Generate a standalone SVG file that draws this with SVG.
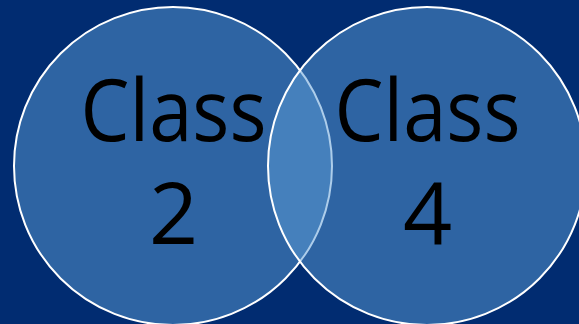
<svg xmlns="http://www.w3.org/2000/svg" width="579" height="324" viewBox="0 0 579 324">
  <style>
    .set { fill: #5B9BD5; fill-opacity: 0.5; stroke: #ffffff; stroke-width: 2; }
    .lbl { font-family: "Open Sans", "Noto Sans", "Liberation Sans", sans-serif; font-size: 86px; fill: #000000; text-anchor: middle; }
  </style>
  <rect x="0" y="0" width="579" height="324" fill="#012c71"/>
  <g id="connectors"></g>
  <g id="class2">
    <circle class="set" cx="173" cy="166" r="159"/>
  </g>
  <g id="class4">
    <circle class="set" cx="427" cy="166" r="159"/>
  </g>
  <g id="labels">
    <text class="lbl" x="173.5" y="141" textLength="186" lengthAdjust="spacingAndGlyphs">Class</text>
    <text class="lbl" x="173.5" y="244">2</text>
    <text class="lbl" x="427.5" y="141" textLength="186" lengthAdjust="spacingAndGlyphs">Class</text>
    <text class="lbl" x="427.5" y="244">4</text>
  </g>
</svg>
